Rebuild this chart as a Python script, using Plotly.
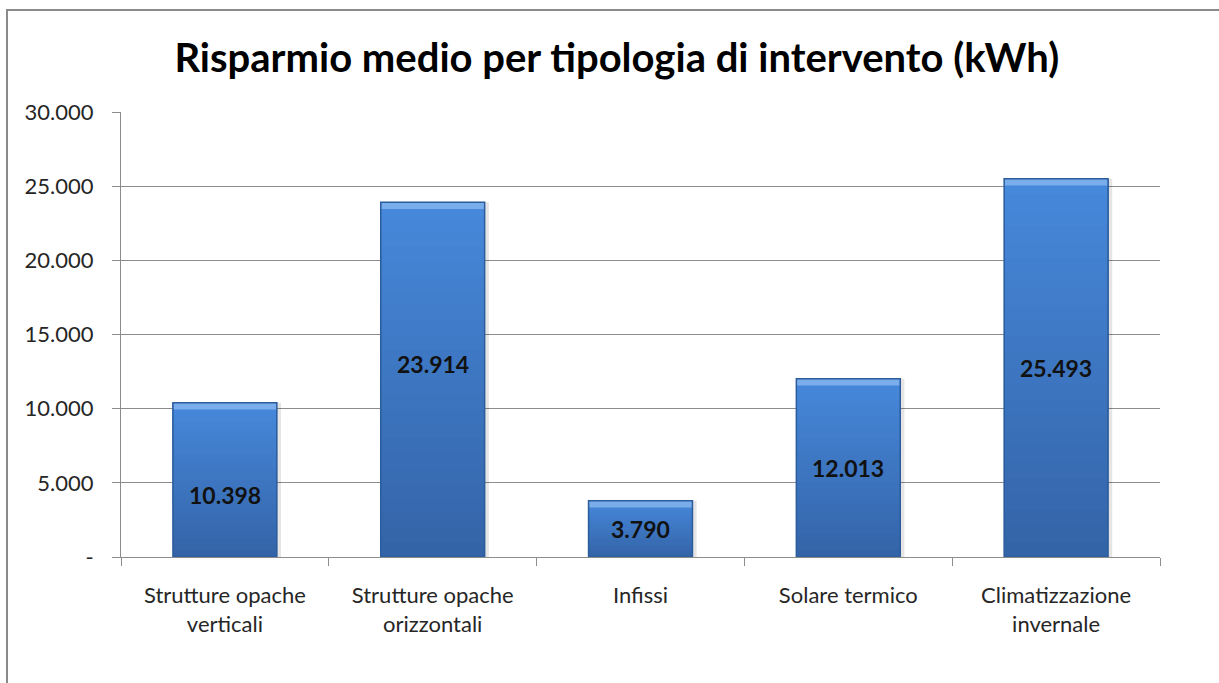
import plotly.graph_objects as go

# Average savings per intervention type (kWh)
categories = [
    "Strutture opache<br>verticali",
    "Strutture opache<br>orizzontali",
    "Infissi",
    "Solare termico",
    "Climatizzazione<br>invernale",
]
savings_kwh = [10398, 23914, 3790, 12013, 25493]

y_tickvals = [0, 5000, 10000, 15000, 20000, 25000, 30000]
y_ticktext = ["-", "5.000", "10.000", "15.000", "20.000", "25.000", "30.000"]


def fmt_it(v):
    return f"{v:,}".replace(",", ".")


def mix(c0, c1, t):
    return "rgb({},{},{})".format(*[round(a + (b - a) * t) for a, b in zip(c0, c1)])


FONT = "Lato, Open Sans, sans-serif"
GRID = "#8c8c8c"
TEXT = "#262626"
BOTTOM_RGB = (52, 100, 168)
TOP_RGB = (70, 136, 218)
N_BANDS = 24
BEVEL = 450  # height of the light top bevel, in kWh units

fig = go.Figure()

# soft drop shadow behind each bar
fig.add_trace(go.Bar(
    x=categories, y=savings_kwh, width=0.52,
    marker=dict(color="rgba(0,0,0,0.10)", line=dict(width=0)),
    offset=-0.25, hoverinfo="skip", showlegend=False,
))

# vertical gradient fill: each layer starts a little higher and runs to the
# top of the bar, painted over the previous one so no seams show
for i in range(N_BANDS):
    t = i / (N_BANDS - 1)
    fig.add_trace(go.Bar(
        x=categories,
        y=[v * (N_BANDS - i) / N_BANDS for v in savings_kwh],
        base=[v * i / N_BANDS for v in savings_kwh],
        width=0.5, offset=-0.25,
        marker=dict(color=mix(BOTTOM_RGB, TOP_RGB, t), line=dict(width=0)),
        hoverinfo="skip", showlegend=False,
    ))

# light bevel along the top edge
fig.add_trace(go.Bar(
    x=categories, y=[BEVEL] * len(savings_kwh),
    base=[v - BEVEL for v in savings_kwh],
    width=0.5, offset=-0.25,
    marker=dict(color="rgba(140,185,240,0.75)", line=dict(width=0)),
    hoverinfo="skip", showlegend=False,
))

# bar outline
fig.add_trace(go.Bar(
    x=categories, y=savings_kwh, width=0.5, offset=-0.25,
    marker=dict(color="rgba(0,0,0,0)", line=dict(color="#2b5c9c", width=1.5)),
    showlegend=False, hovertemplate="%{x}: %{y:,}<extra></extra>",
))

# value labels inside the bars
label_shift = [-15, 16, 0, 0, 0]
for cat, v, dy in zip(categories, savings_kwh, label_shift):
    fig.add_annotation(
        x=cat, y=v / 2, text=f"<b>{fmt_it(v)}</b>", showarrow=False,
        yshift=dy, font=dict(family=FONT, size=23, color="#111111"),
    )

# outer chart frame
fig.add_shape(
    type="rect", xref="paper", yref="paper",
    x0=(7 - 121) / 1039, x1=(1240 - 121) / 1039,
    y0=(557 - 700) / 445, y1=(557 - 10) / 445,
    line=dict(color="#8a8a8a", width=2), fillcolor="rgba(0,0,0,0)", layer="below",
)

fig.update_layout(
    width=1219, height=683,
    margin=dict(l=121, r=59, t=112, b=126),
    paper_bgcolor="white", plot_bgcolor="white",
    barmode="overlay",
    title=dict(
        text="<b>Risparmio medio per tipologia di intervento (kWh)</b>",
        x=0.506, xanchor="center", y=1 - 58 / 683, yanchor="middle",
        font=dict(family=FONT, size=40, color="#000000"),
    ),
    font=dict(family=FONT, size=22, color=TEXT),
)

fig.update_xaxes(
    type="category", tickson="boundaries", ticks="outside", ticklen=8,
    tickcolor=GRID, showline=True, linecolor=GRID, linewidth=1,
    showgrid=False, ticklabelstandoff=19,
    tickfont=dict(family=FONT, size=22, color=TEXT),
)
fig.update_yaxes(
    range=[0, 30000], tickvals=y_tickvals, ticktext=y_ticktext,
    ticks="outside", ticklen=8, tickcolor=GRID,
    showline=True, linecolor=GRID, linewidth=1,
    showgrid=True, gridcolor=GRID, gridwidth=1, zeroline=False,
    ticklabelstandoff=14,
    tickfont=dict(family=FONT, size=22, color=TEXT),
)

fig.write_html("out.html")
